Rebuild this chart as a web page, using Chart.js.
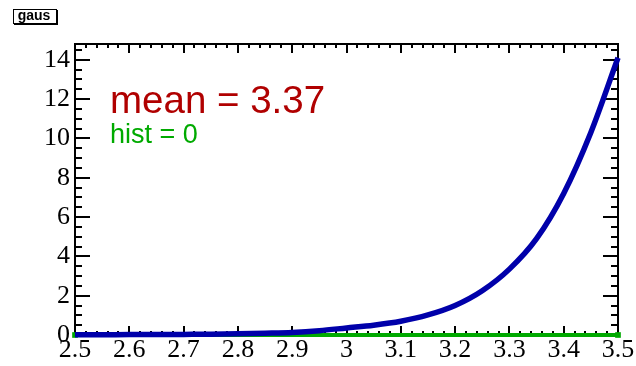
<!DOCTYPE html>
<html>
<head>
<meta charset="utf-8">
<script src="https://cdn.jsdelivr.net/npm/chart.js@4/dist/chart.umd.min.js"></script>
<style>
  html, body { margin: 0; padding: 0; background: #ffffff; }
  #wrap { width: 636px; height: 366px; position: relative; }
</style>
</head>
<body>
<div id="wrap"><canvas id="c" width="636" height="366"></canvas></div>
<script>
// ---- data ----
const xValues = [2.5, 2.55, 2.6, 2.65, 2.7, 2.75, 2.8, 2.85, 2.9, 2.95, 3.0,
                 3.05, 3.1, 3.15, 3.2, 3.25, 3.3, 3.35, 3.4, 3.45, 3.5];
const gausValues = [0.01, 0.01, 0.02, 0.02, 0.03, 0.04, 0.06, 0.09, 0.13, 0.22, 0.36,
                    0.5, 0.7, 1.02, 1.5, 2.25, 3.35, 4.9, 7.2, 10.3, 14.1];
const histX = [2.5, 3.5];
const histValues = [0, 0];
const xTicks = [2.5, 2.6, 2.7, 2.8, 2.9, 3.0, 3.1, 3.2, 3.3, 3.4, 3.5];
const xTickLabels = ['2.5', '2.6', '2.7', '2.8', '2.9', '3', '3.1', '3.2', '3.3', '3.4', '3.5'];
const yTicks = [0, 2, 4, 6, 8, 10, 12, 14];
const yTickLabels = ['0', '2', '4', '6', '8', '10', '12', '14'];
const titleText = 'gaus';
const meanText = 'mean = 3.37';
const histText = 'hist = 0';

const xMin = 2.5, xMax = 3.5, yMin = 0, yMax = 14.8;

const gausData = xValues.map((x, i) => ({ x: x, y: gausValues[i] }));
const histData = histX.map((x, i) => ({ x: x, y: histValues[i] }));

function line(ctx, x1, y1, x2, y2) {
  ctx.beginPath(); ctx.moveTo(x1, y1); ctx.lineTo(x2, y2); ctx.stroke();
}

const framePlugin = {
  id: 'frame',
  beforeDatasetsDraw(chart) {
    const { ctx, chartArea: a, scales: { x, y } } = chart;
    ctx.save();
    ctx.strokeStyle = '#000';
    ctx.lineWidth = 2;
    ctx.strokeRect(a.left, a.top, a.right - a.left, a.bottom - a.top);
    // y ticks: majors every 2, minors every 0.5
    for (let k = 0; k * 0.5 <= yMax + 1e-9; k++) {
      const v = k * 0.5;
      const py = Math.round(y.getPixelForValue(v));
      const L = (k % 4 === 0) ? 15 : 7;
      line(ctx, a.left, py, a.left + L, py);
      line(ctx, a.right, py, a.right - L, py);
    }
    // x ticks: majors every 0.1, minors every 0.02
    for (let k = 0; k <= 50; k++) {
      const v = xMin + k * 0.02;
      const px = Math.round(x.getPixelForValue(v));
      const L = (k % 5 === 0) ? 9 : 4;
      line(ctx, px, a.bottom, px, a.bottom - L);
      line(ctx, px, a.top, px, a.top + L);
    }
    ctx.restore();
  },
  afterDraw(chart) {
    const ctx = chart.ctx;
    ctx.save();
    // title box
    ctx.fillStyle = '#fff';
    ctx.fillRect(13, 9, 44, 15);
    ctx.strokeStyle = '#000';
    ctx.lineWidth = 1;
    ctx.strokeRect(13.5, 9.5, 43, 14);
    ctx.fillStyle = '#000';
    ctx.fillRect(56, 10, 2, 15);
    ctx.fillRect(14, 23, 44, 2);
    ctx.font = 'bold 14px "Liberation Sans", Arial, sans-serif';
    ctx.textBaseline = 'alphabetic';
    ctx.textAlign = 'center';
    ctx.fillText(titleText, 34, 20);
    // annotations
    ctx.textAlign = 'left';
    ctx.fillStyle = '#b00000';
    ctx.font = '38.5px "Liberation Sans", Arial, sans-serif';
    ctx.fillText(meanText, 110, 113);
    ctx.fillStyle = '#00aa00';
    ctx.font = '27px "Liberation Sans", Arial, sans-serif';
    ctx.fillText(histText, 110, 143);
    ctx.restore();
  }
};

new Chart(document.getElementById('c'), {
  type: 'line',
  data: {
    datasets: [
      {
        label: 'gaus',
        data: gausData,
        borderColor: '#0000aa',
        borderWidth: 5.5,
        pointRadius: 0,
        cubicInterpolationMode: 'monotone',
        fill: false,
        clip: false,
        order: 1
      },
      {
        label: 'hist',
        data: histData,
        borderColor: '#00aa00',
        backgroundColor: '#00aa00',
        borderWidth: 4,
        pointStyle: 'rect',
        pointRadius: 4,
        pointBorderWidth: 0,
        fill: false,
        clip: false,
        order: 2
      }
    ]
  },
  options: {
    responsive: false,
    animation: false,
    events: [],
    layout: { padding: { left: 0, top: 44, right: 18, bottom: 0 } },
    plugins: { legend: { display: false }, tooltip: { enabled: false }, title: { display: false } },
    scales: {
      x: {
        type: 'linear',
        min: xMin, max: xMax,
        grid: { display: false, drawTicks: false },
        border: { display: false },
        afterBuildTicks(s) { s.ticks = xTicks.map(v => ({ value: v })); },
        afterFit(s) { s.height = 31; },
        ticks: {
          autoSkip: false, maxRotation: 0, padding: 0,
          color: '#000',
          font: { family: '"Liberation Serif", "Times New Roman", serif', size: 26 },
          callback: (v, i) => xTickLabels[i]
        }
      },
      y: {
        type: 'linear',
        min: yMin, max: yMax,
        grid: { display: false, drawTicks: false },
        border: { display: false },
        afterBuildTicks(s) { s.ticks = yTicks.map(v => ({ value: v })); },
        afterFit(s) { s.width = 75; },
        ticks: {
          padding: 5,
          color: '#000',
          font: { family: '"Liberation Serif", "Times New Roman", serif', size: 26 },
          callback: (v, i) => yTickLabels[i]
        }
      }
    }
  },
  plugins: [framePlugin]
});
</script>
</body>
</html>
